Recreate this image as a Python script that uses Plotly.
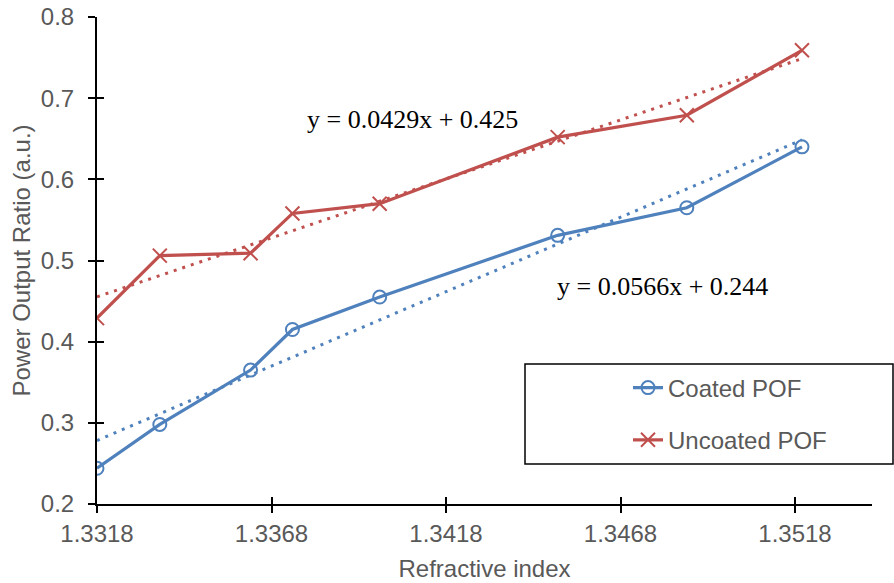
import numpy as np
import plotly.graph_objects as go

# ---- data ----
refractive_index = [1.3318, 1.3336, 1.3362, 1.3374, 1.3399, 1.3450, 1.3487, 1.3520]
coated_pof = [0.244, 0.298, 0.365, 0.415, 0.455, 0.531, 0.565, 0.640]
uncoated_pof = [0.429, 0.506, 0.509, 0.558, 0.570, 0.652, 0.679, 0.759]
x_ticks = [1.3318, 1.3368, 1.3418, 1.3468, 1.3518]
y_ticks = [0.2, 0.3, 0.4, 0.5, 0.6, 0.7, 0.8]
eq_coated = "y = 0.0566x + 0.244"
eq_uncoated = "y = 0.0429x + 0.425"

BLUE = "#4F81BD"
RED = "#C0504D"
GRAY = "#595959"

W, H = 894, 583
L, R, T, B = 97, 22, 17, 79
pw, ph = W - L - R, H - T - B
x_range = [1.3318, 1.3318 + (pw / 174.5) * 0.005]
y_range = [0.2, 0.8]


def trend(xs, ys):
    k, b = np.polyfit(xs, ys, 1)
    xe = np.array([xs[0], xs[-1]])
    return xe, k * xe + b


fig = go.Figure()

for ys, col in [(coated_pof, BLUE), (uncoated_pof, RED)]:
    tx, ty = trend(np.array(refractive_index), np.array(ys))
    fig.add_trace(go.Scatter(x=tx, y=ty, mode="lines", showlegend=False,
                             line=dict(color=col, width=3, dash="3px,6px"),
                             hoverinfo="skip"))

fig.add_trace(go.Scatter(
    x=refractive_index, y=coated_pof, mode="lines+markers", name="Coated POF",
    legendgroup="a",
    line=dict(color=BLUE, width=3.2),
    marker=dict(symbol="circle-open", size=13, color=BLUE, line=dict(width=2, color=BLUE)),
))
fig.add_trace(go.Scatter(
    x=refractive_index, y=uncoated_pof, mode="lines+markers", name="Uncoated POF",
    legendgroup="b",
    line=dict(color=RED, width=3.2),
    marker=dict(symbol="x-thin-open", size=14, color=RED, line=dict(width=2, color=RED)),
))

# equations
def px2paper(xp, yp):
    return (xp - L) / pw, (H - B - yp) / ph

ax_, ay_ = px2paper(412, 119)
bx_, by_ = px2paper(662, 286)
for (xx, yy, txt) in [(ax_, ay_, eq_uncoated), (bx_, by_, eq_coated)]:
    fig.add_annotation(x=xx, y=yy, xref="paper", yref="paper", text=txt,
                       xanchor="center", yanchor="middle", showarrow=False,
                       font=dict(family="Liberation Serif", size=26, color="#000000"))

# legend box
bx0, by0 = px2paper(525, 464)
bx1, by1 = px2paper(893, 364)
fig.add_shape(type="rect", xref="paper", yref="paper", x0=bx0, y0=by0, x1=bx1, y1=by1,
              line=dict(color="#000000", width=1.5), fillcolor="rgba(0,0,0,0)", layer="above")
lx, ly = px2paper(628, 414)

axis_font = dict(family="Liberation Sans, Arial", size=24, color=GRAY)

fig.update_layout(
    width=W, height=H,
    margin=dict(l=L, r=R, t=T, b=B),
    paper_bgcolor="white", plot_bgcolor="white",
    font=axis_font,
    legend=dict(x=lx, y=ly, xanchor="left", yanchor="middle",
                bgcolor="rgba(0,0,0,0)", borderwidth=0, tracegroupgap=18,
                font=dict(family="Liberation Sans, Arial", size=24, color=GRAY)),
    xaxis=dict(range=x_range, tickvals=x_ticks, ticktext=[f"{v:.4f}" for v in x_ticks],
               automargin=False,
               showgrid=False, zeroline=False, showline=True, linecolor="black", linewidth=2,
               ticks="outside", ticklen=7, tickwidth=2, tickcolor="black",
               ticklabelstandoff=0,
               title=dict(text="Refractive index", font=axis_font, standoff=14)),
    yaxis=dict(range=y_range, tickvals=y_ticks, ticktext=[f"{v:.1f}" for v in y_ticks],
               automargin=False,
               showgrid=False, zeroline=False, showline=True, linecolor="black", linewidth=2,
               ticks="outside", ticklen=7, tickwidth=2, tickcolor="black",
               ticklabelstandoff=9,
               title=dict(text="Power Output Ratio (a.u.)", font=axis_font, standoff=3)),
    xaxis2=dict(range=x_range, overlaying="x", tickvals=x_ticks, showticklabels=False,
                automargin=False,
                showgrid=False, zeroline=False, showline=False,
                ticks="inside", ticklen=7, tickwidth=2, tickcolor="black", side="bottom"),
    yaxis2=dict(range=y_range, overlaying="y", tickvals=y_ticks, showticklabels=False,
                automargin=False,
                showgrid=False, zeroline=False, showline=False,
                ticks="inside", ticklen=7, tickwidth=2, tickcolor="black", side="left"),
)
# invisible trace to activate the inner-tick axes
fig.add_trace(go.Scatter(x=[refractive_index[0]], y=[coated_pof[0]], xaxis="x2", yaxis="y2",
                         mode="markers", marker=dict(opacity=0), showlegend=False, hoverinfo="skip"))

fig.write_html("out.html", config={"displayModeBar": False},
               post_script="document.body.style.margin='0';document.body.style.overflow='hidden';")
